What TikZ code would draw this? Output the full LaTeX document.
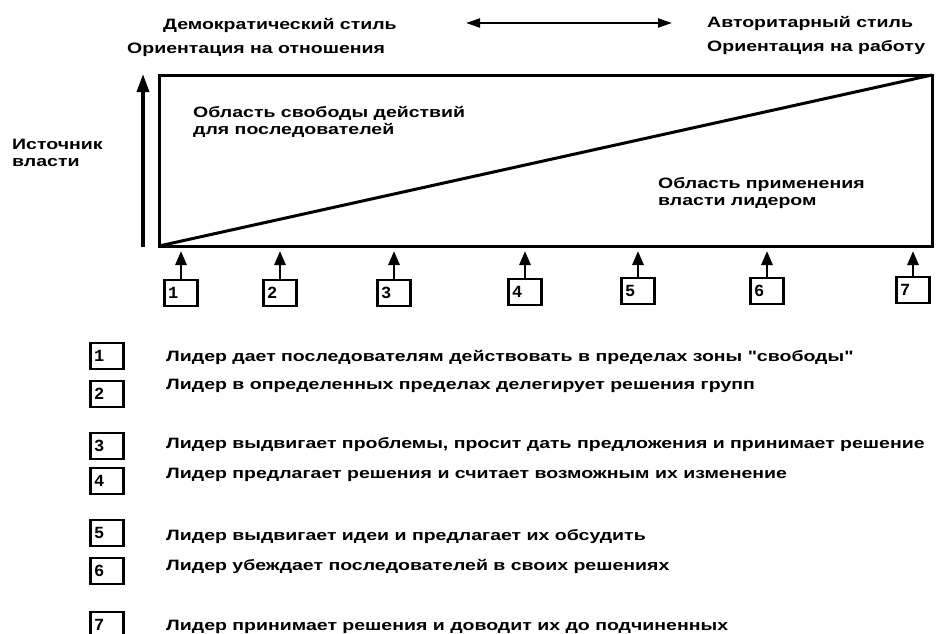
\documentclass[tikz,border=0pt]{standalone}
\usepackage{fontspec}
\setmainfont{Liberation Sans}
\newfontfamily\widefont[FakeStretch=1.3]{Liberation Sans}
\newfontfamily\legfont[FakeStretch=1.3]{Liberation Sans}
\newfontfamily\numfont{Liberation Mono}
\usetikzlibrary{arrows.meta}
\begin{document}
\begin{tikzpicture}[x=1pt,y=-1pt,
  toptext/.style={font=\widefont\fontsize{15}{16}\selectfont\bfseries, inner sep=0pt, anchor=west},
  areatext/.style={font=\widefont\fontsize{15}{17}\selectfont\bfseries, inner sep=0pt, anchor=west, align=left},
  legtext/.style={font=\legfont\fontsize{15}{16}\selectfont\bfseries, inner sep=0pt, anchor=west},
  numbox/.style={draw, line width=2.6pt, minimum width=33pt, minimum height=26pt, inner sep=0pt,
     font=\numfont\fontsize{17}{17}\selectfont\bfseries, text width=26pt, align=left},
  uparr/.style={line width=2.8pt, -{Triangle[length=14pt,width=11pt]}},
  heavy/.style={line width=3pt}]
\useasboundingbox (0,0) rectangle (939,634);

% header
\node[toptext] (dem) at (163,25) {Демократический стиль};
\node[toptext] (aut) at (707,23) {Авторитарный стиль};
\node[toptext] (rel) at (127,50) {Ориентация на отношения};
\node[toptext] (work) at (707,48) {Ориентация на работу};
\coordinate (al) at (466,23);
\coordinate (ar) at (672,23);
\draw[line width=2.2pt, {Triangle[length=14pt,width=9pt]}-{Triangle[length=14pt,width=9pt]}] (al) -- (ar);

% main rectangle
\coordinate (bl) at (159,246);
\coordinate (tr) at (932,75);
\draw[heavy] (bl) rectangle (tr);
\draw[heavy] (bl) -- (tr);

% vertical arrow
\coordinate (vb) at (143,247);
\coordinate (vt) at (143,74);
\draw[line width=3.4pt, -{Triangle[length=18pt,width=12pt]}] (vb) -- (vt);
\node[areatext] (src) at (12,153) {Источник\\власти};

\node[areatext] (free) at (193,122) {Область свободы действий\\для последователей};
\node[areatext] (power) at (658,193) {Область применения\\власти лидером};

% numbered boxes under the rectangle
\foreach \i/\x/\y in {1/181/293, 2/280/293, 3/394/293, 4/525/292, 5/638/291, 6/767/291, 7/913/290} {
  \node[numbox] (b\i) at (\x,\y) {\i};
  \coordinate (p\i) at (\x,251);
  \draw[uparr] (b\i.north) -- (p\i);
}

% legend
\foreach \i/\by/\ty/\t in {
  1/356/357/{Лидер дает последователям действовать в пределах зоны "свободы"},
  2/394/386/{Лидер в определенных пределах делегирует решения групп},
  3/446/445/{Лидер выдвигает проблемы, просит дать предложения и принимает решение},
  4/481/475/{Лидер предлагает решения и считает возможным их изменение},
  5/533/537/{Лидер выдвигает идеи и предлагает их обсудить},
  6/571/566/{Лидер убеждает последователей в своих решениях},
  7/625/627/{Лидер принимает решения и доводит их до подчиненных}} {
  \node[numbox] (l\i) at (107,\by) {\i};
  \node[legtext] (t\i) at (166,\ty) {\t};
}
\end{tikzpicture}
\end{document}
